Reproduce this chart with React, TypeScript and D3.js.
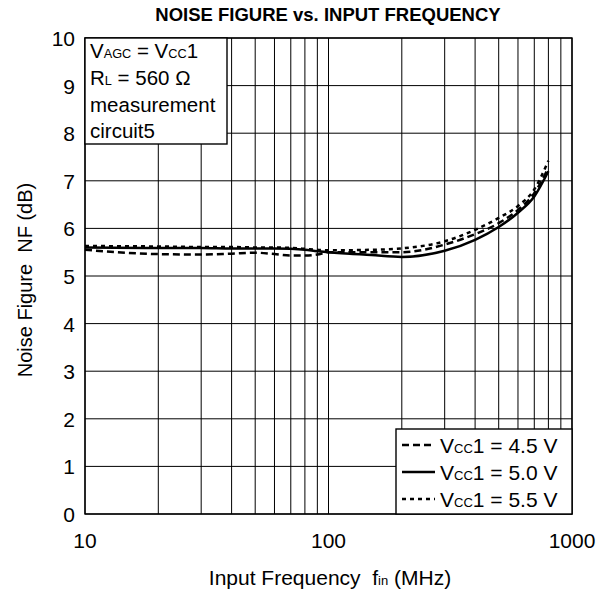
import React, { useEffect, useRef } from 'react';
import * as d3 from 'd3';

const freqs = [10, 20, 30, 40, 50, 60, 70, 80, 90, 100, 150, 200, 300, 400, 500, 600, 700, 800];
const nf45 = [5.55, 5.46, 5.45, 5.47, 5.49, 5.46, 5.43, 5.43, 5.45, 5.5, 5.5, 5.5, 5.66, 5.88, 6.11, 6.39, 6.74, 7.27];
const nf50 = [5.6, 5.59, 5.59, 5.58, 5.58, 5.58, 5.57, 5.55, 5.52, 5.5, 5.44, 5.4, 5.53, 5.76, 6.03, 6.33, 6.67, 7.2];
const nf55 = [5.63, 5.62, 5.61, 5.61, 5.6, 5.6, 5.59, 5.57, 5.55, 5.54, 5.55, 5.58, 5.73, 5.97, 6.22, 6.47, 6.82, 7.42];
const seriesLabels = ['4.5 V', '5.0 V', '5.5 V'];
const xTicks = [10, 100, 1000];
const yTicks = [0, 1, 2, 3, 4, 5, 6, 7, 8, 9, 10];

const font = 'Liberation Sans, Arial, sans-serif';

// text made of [string, isSmall] parts
const addText = (parent: any, x: number, y: number, size: number, parts: [string, boolean][], anchor = 'start') => {
  const t = parent.append('text').attr('x', x).attr('y', y)
    .attr('font-family', font).attr('font-size', size).attr('text-anchor', anchor).attr('fill', '#000')
    .style('white-space', 'pre');
  parts.forEach(([s, small]) => {
    const sp = t.append('tspan').text(s);
    if (small) sp.attr('font-size', size * 0.62);
  });
  return t;
};

const NoiseChart = () => {
  const ref = useRef<SVGSVGElement>(null);

  useEffect(() => {
    const svg = d3.select(ref.current);
    svg.selectAll('*').remove();

    const x = d3.scaleLog().domain([10, 1000]).range([85, 572]);
    const y = d3.scaleLinear().domain([0, 10]).range([514, 38]);

    svg.append('rect').attr('width', 598).attr('height', 592).attr('fill', 'white');

    // grid
    const minor: number[] = [];
    [10, 100].forEach(d => { for (let k = 1; k <= 9; k++) minor.push(d * k); });
    minor.push(1000);
    const g = svg.append('g');
    g.selectAll('line.v').data(minor).enter().append('line')
      .attr('x1', d => x(d)).attr('x2', d => x(d))
      .attr('y1', y(0)).attr('y2', y(10))
      .attr('stroke', '#000').attr('stroke-width', 1);
    g.selectAll('line.h').data(yTicks).enter().append('line')
      .attr('x1', x(10)).attr('x2', x(1000))
      .attr('y1', d => y(d)).attr('y2', d => y(d))
      .attr('stroke', '#000').attr('stroke-width', 1);
    g.append('rect').attr('x', x(10)).attr('y', y(10))
      .attr('width', x(1000) - x(10)).attr('height', y(0) - y(10))
      .attr('fill', 'none').attr('stroke', '#000').attr('stroke-width', 1.4);

    // tick labels
    svg.selectAll('text.xt').data(xTicks).enter().append('text')
      .attr('x', d => x(d)).attr('y', 548)
      .attr('text-anchor', 'middle').attr('font-family', font).attr('font-size', 21)
      .text(d => d);
    svg.selectAll('text.yt').data(yTicks).enter().append('text')
      .attr('x', 75).attr('y', d => y(d) + 8)
      .attr('text-anchor', 'end').attr('font-family', font).attr('font-size', 21)
      .text(d => d);

    // title
    svg.append('text').attr('x', 328).attr('y', 21).attr('text-anchor', 'middle')
      .attr('font-family', font).attr('font-size', 18.5).attr('font-weight', 'bold')
      .text('NOISE FIGURE vs. INPUT FREQUENCY');

    // axis labels
    addText(svg, 330, 585, 21, [['Input Frequency  f', false], ['in', true], [' (MHz)', false]], 'middle');
    svg.append('text').attr('transform', 'translate(32,280) rotate(-90)')
      .attr('text-anchor', 'middle').attr('font-family', font).attr('font-size', 20)
      .style('white-space', 'pre')
      .text('Noise Figure  NF (dB)');

    // curves
    const styles = [
      { data: nf45, dash: '7,4' },
      { data: nf50, dash: null },
      { data: nf55, dash: '4,4' },
    ];
    const line = d3.line<number>()
      .x((d, i) => x(freqs[i]))
      .y(d => y(d))
      .curve(d3.curveMonotoneX);
    styles.forEach(s => {
      svg.append('path').attr('d', line(s.data) as string)
        .attr('fill', 'none').attr('stroke', '#000').attr('stroke-width', 2.5)
        .attr('stroke-dasharray', s.dash);
    });

    // annotation box
    const ab = svg.append('g');
    ab.append('rect').attr('x', x(10)).attr('y', y(10)).attr('width', 142).attr('height', 106)
      .attr('fill', 'white').attr('stroke', '#000').attr('stroke-width', 1.4);
    addText(ab, 90, 58, 20.5, [['V', false], ['AGC', true], [' = V', false], ['CC', true], ['1', false]]);
    addText(ab, 90, 85, 20.5, [['R', false], ['L', true], [' = 560 \u03A9', false]]);
    addText(ab, 90, 111.5, 20.5, [['measurement', false]]);
    addText(ab, 90, 138, 20.5, [['circuit5', false]]);

    // legend
    const lg = svg.append('g');
    lg.append('rect').attr('x', 396).attr('y', 429).attr('width', x(1000) - 396).attr('height', y(0) - 429)
      .attr('fill', 'white').attr('stroke', '#000').attr('stroke-width', 1.4);
    styles.forEach((s, i) => {
      const ly = 445 + i * 27;
      lg.append('line').attr('x1', 402).attr('x2', 435).attr('y1', ly).attr('y2', ly)
        .attr('stroke', '#000').attr('stroke-width', 2.5).attr('stroke-dasharray', s.dash);
      addText(lg, 440, ly + 8, 21, [['V', false], ['CC', true], ['1 = ' + seriesLabels[i], false]]);
    });
  }, []);

  return <svg ref={ref} width={598} height={592} style={{ position: 'absolute', left: 0, top: 0 }} />;
};

export default function App() {
  return <NoiseChart />;
}
